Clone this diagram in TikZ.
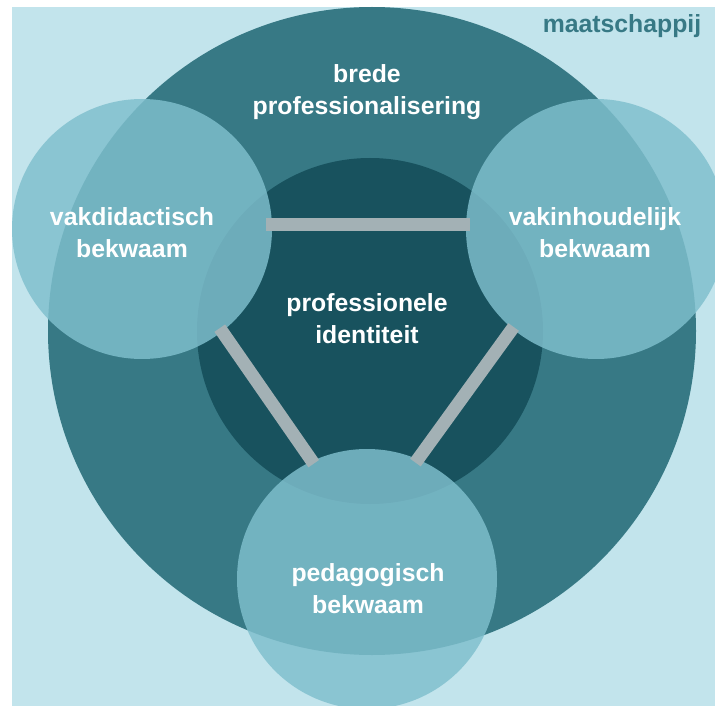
\documentclass[tikz,border=0pt]{standalone}
\usepackage{fontspec}
\setmainfont{Liberation Sans}
\usetikzlibrary{calc}
\definecolor{lucht}{HTML}{C2E4EC}
\definecolor{ring}{HTML}{377985}
\definecolor{kern}{HTML}{18525E}
\definecolor{bekwaam}{HTML}{7FBFCD}
\definecolor{grijs}{HTML}{A3B1B5}
\tikzset{
	schijf/.style={circle, inner sep=0pt, outer sep=0pt},
	kring/.style={schijf, fill=bekwaam, fill opacity=0.83, minimum size=260pt},
	balk/.style={draw=grijs, line width=13pt},
	tekst/.style={text=white, align=center, font=\bfseries\fontsize{24.8}{32}\selectfont}
}

\begin{document}
\begin{tikzpicture}[x=1pt, y=-1pt]
	\useasboundingbox (0,0) rectangle (715,706);
	\fill[lucht] (12,7) rectangle (715,706);
	
	\node[schijf, fill=ring, minimum size=648pt] (breed) at (372,331) {};
	\node[schijf, fill=kern, minimum size=346pt] (kern) at (370,331) {};
	
	\node[kring] (vd) at (142,229) {};
	\node[kring] (vi) at (596,229) {};
	\node[kring] (ped) at (367,579) {};
	
	\draw[balk, shorten <=-6pt, shorten >=-4pt] (vd.2) -- (vi.178);
	\draw[balk, shorten <=-4pt, shorten >=-3pt] (vd.-52) -- (ped.115);
	\draw[balk, shorten <=-2pt, shorten >=-4pt] (vi.-130) -- (ped.67);
	
	\node[tekst, text=ring] (maats) at (622,26) {maatschappij};
	\node[tekst] (brede) at (367,92) {brede\\professionalisering};
	\node[tekst] (ident) at (367,319) {professionele\\identiteit};
	\node[tekst] (vdtekst) at (132,233) {vakdidactisch\\bekwaam};
	\node[tekst] (vitekst) at (595,233) {vakinhoudelijk\\bekwaam};
	\node[tekst] (pedtekst) at (368,589) {pedagogisch\\bekwaam};
\end{tikzpicture}
\end{document}
